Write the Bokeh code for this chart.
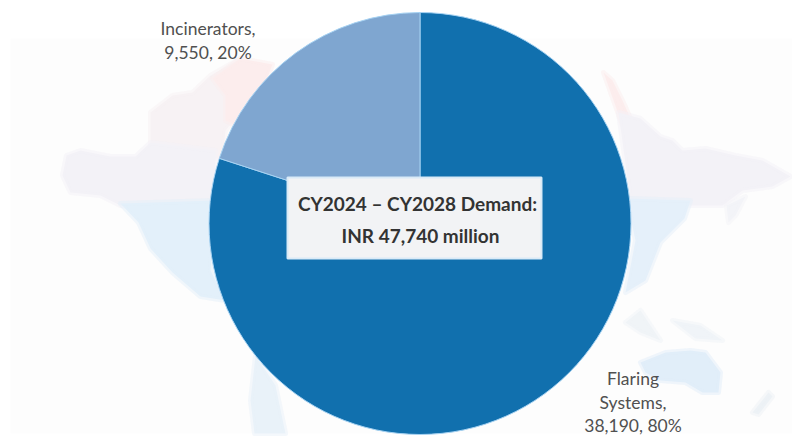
import math
from bokeh.plotting import figure
from bokeh.models import ColumnDataSource, Range1d
from bokeh.core.properties import value
from bokeh.embed import file_html
from bokeh.resources import INLINE

# ---- chart values
categories = ["Flaring Systems", "Incinerators"]
values = [38190, 9550]
percents = [80, 20]
colors = ["#1170AE", "#7FA6D0"]
center_title = ["CY2024 \u2013 CY2028 Demand:", "INR 47,740 million"]

W, H = 792, 437
CX, CY, R = 419.5, 223, 211

p = figure(width=W, height=H, x_range=Range1d(0, W), y_range=Range1d(H, 0),
           output_backend="svg", toolbar_location=None, min_border=0,
           margin=(0, 0, 0, 0), outline_line_color=None)
p.axis.visible = False
p.grid.visible = False
p.background_fill_color = "#FFFFFF"
p.border_fill_color = "#FFFFFF"

# ---- faint world-map backdrop (decoration, page coordinates)
p.quad(left=[10], right=[792], top=[38], bottom=[433], fill_color="#FDFDFD", line_color=None)
backdrop = [
    # Arctic Canada
    ("#F7F2F4", [[150, 112], [172, 95], [192, 92], [210, 75], [240, 58], [262, 70], [250, 100], [225, 130], [222, 158], [150, 158]]),
    ("#FCEDED", [[212, 78], [240, 58], [272, 64], [262, 90], [235, 125], [225, 120], [225, 95]]),
    # Canada / Alaska band
    ("#F3F2F7", [[66, 155], [80, 150], [110, 156], [135, 156], [150, 142], [215, 150], [215, 215], [120, 205], [100, 195], [70, 192], [62, 175]]),
    # USA / Central America
    ("#E3F0FA", [[120, 203], [215, 200], [210, 270], [225, 300], [200, 296], [172, 272], [150, 248], [138, 222]]),
    # South America tip
    ("#E9F2F9", [[255, 355], [275, 385], [285, 433], [254, 433], [250, 400]]),
    # Siberia
    ("#FCEDED", [[603, 72], [612, 80], [622, 100], [630, 118], [622, 125]]),
    ("#F3F2F7", [[618, 112], [640, 118], [660, 136], [672, 140], [682, 150], [705, 148], [735, 155], [762, 160], [790, 176], [772, 186], [742, 190], [722, 205], [690, 205], [660, 200], [630, 200]]),
    # China / South-East Asia
    ("#E5F0FA", [[626, 198], [690, 200], [684, 218], [660, 242], [645, 280], [625, 292], [635, 240]]),
    ("#F3F4F8", [[726, 205], [745, 196], [735, 215], [728, 222]]),
    # Indonesia
    ("#F0F4F7", [[625, 322], [640, 310], [660, 340], [640, 332]]),
    ("#F0F4F8", [[672, 320], [700, 325], [722, 340], [695, 338]]),
    # Australia
    ("#E1EEF9", [[640, 362], [665, 352], [690, 350], [705, 352], [720, 372], [718, 392], [702, 392], [685, 382], [660, 380], [645, 372]]),
    # New Zealand
    ("#EDF2F6", [[752, 412], [768, 392], [772, 396], [758, 414]]),
]
for col, pts in backdrop:
    p.patch([a for a, _ in pts], [b for _, b in pts], fill_color=col,
            line_color=col, line_alpha=0.5, line_width=5, line_join="round")

# ---- pie: clockwise from 12 o'clock
total = sum(values)
starts, ends, c = [], [], math.pi / 2
for v in values:
    starts.append(c)
    c -= 2 * math.pi * v / total
    ends.append(c)
src = ColumnDataSource(dict(x=[CX] * 2, y=[CY] * 2, start=starts, end=ends, color=colors))
p.wedge(x="x", y="y", radius=R, start_angle="start", end_angle="end", source=src,
        direction="clock", fill_color="color", line_color="#A6D2F2", line_width=1)

# ---- centre box
p.quad(left=[287], right=[541], top=[177], bottom=[258], fill_color="#F2F3F5",
       line_color="#D9EAF7", line_width=2)
p.text(x=[417, 420], y=[203, 235], text=center_title, text_align="center", text_baseline="middle",
       text_font=value("Lato"), text_font_style="bold", text_font_size="19px", text_color="#333333")

# ---- data labels
lab = "#505050"
inc = [f"{categories[1]},", f"{values[1]:,}, {percents[1]}%"]
p.text(x=[207.5, 207.5], y=[28, 52], text=inc, text_align="center", text_baseline="middle",
       text_font=value("Lato"), text_font_size="17.5px", text_color=lab)
fl_name = categories[0].split(" ")
fl = [fl_name[0], fl_name[1] + ",", f"{values[0]:,}, {percents[0]}%"]
p.text(x=[632.5, 632.5, 632.5], y=[378, 402, 425], text=fl, text_align="center", text_baseline="middle",
       text_font=value("Lato"), text_font_size="17.5px", text_color=lab)

open("out.html", "w").write(file_html(p, INLINE))
